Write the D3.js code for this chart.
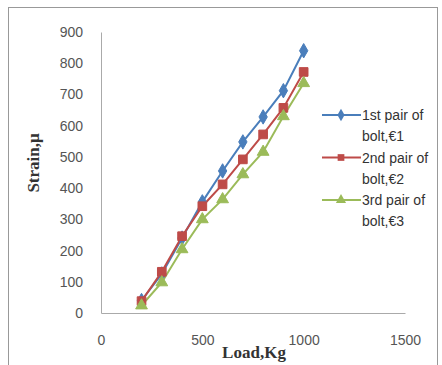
<!DOCTYPE html>
<html>
<head>
<script src="https://d3js.org/d3.v7.min.js"></script>
<style>
  body { margin: 0; background: #fff; }
  .tick text { font-family: "Liberation Sans", Arial, sans-serif; font-size: 14px; fill: #555; }
  .legend text { font-family: "Liberation Sans", Arial, sans-serif; font-size: 14px; fill: #333; }
  .title { font-family: "Liberation Serif", "Times New Roman", serif; font-weight: bold; font-size: 17px; fill: #333; }
</style>
</head>
<body>
<script>
var loads = [200, 300, 400, 500, 600, 700, 800, 900, 1000];
var pair1 = [40, 125, 240, 356, 455, 548, 628, 712, 840];
var pair2 = [38, 132, 246, 342, 412, 492, 572, 657, 772];
var pair3 = [24, 98, 204, 300, 364, 444, 516, 630, 736];
var seriesNames = [["1st pair of", "bolt,\u20ac1"], ["2nd pair of", "bolt,\u20ac2"], ["3rd pair of", "bolt,\u20ac3"]];
var xTicks = [0, 500, 1000, 1500];
var yTicks = [0, 100, 200, 300, 400, 500, 600, 700, 800, 900];

var colours = ["#4a7ebb", "#be4b48", "#9bbb59"];
var shapes = [d3.symbolDiamond, d3.symbolSquare, d3.symbolTriangle];

var width = 442, height = 365;
var svg = d3.select("body").append("svg")
    .attr("width", width)
    .attr("height", height);

// chart frame
svg.append("rect")
  .attr("x", 8.5).attr("y", 7.5)
  .attr("width", 429).attr("height", 370)
  .attr("fill", "none").attr("stroke", "#999");

var x = d3.scaleLinear().domain([0, 1500]).range([101, 405]);
var y = d3.scaleLinear().domain([0, 900]).range([313, 32]);

var xAxis = d3.axisBottom(x).tickValues(xTicks).tickFormat(d3.format("d")).tickSize(0).tickPadding(22);
var yAxis = d3.axisLeft(y).tickValues(yTicks).tickSize(0).tickPadding(18);

svg.append("g")
  .attr("transform", "translate(0," + y(0) + ")")
  .call(xAxis)
  .call(function(g) { g.select(".domain").attr("stroke", "#aaa"); });

svg.append("g")
  .attr("transform", "translate(" + x(0) + ",0)")
  .call(yAxis)
  .call(function(g) { g.select(".domain").attr("stroke", "#aaa"); });

var data = [pair1, pair2, pair3];
var line = d3.line()
  .x(function(d, i) { return x(loads[i]); })
  .y(function(d) { return y(d); });

data.forEach(function(vals, s) {
  svg.append("path")
    .datum(vals)
    .attr("d", line)
    .attr("fill", "none")
    .attr("stroke", colours[s])
    .attr("stroke-width", 2);
});
data.forEach(function(vals, s) {
  svg.append("g").selectAll("path")
    .data(vals)
    .enter()
    .append("path")
    .attr("d", d3.symbol().type(shapes[s]).size(s === 1 ? 75 : 60))
    .attr("transform", function(d, i) { return "translate(" + x(loads[i]) + "," + y(d) + ")"; })
    .attr("fill", colours[s])
    .attr("stroke", colours[s]);
});

// axis titles
svg.append("text")
  .attr("class", "title")
  .attr("transform", "translate(39,163) rotate(-90)")
  .attr("text-anchor", "middle")
  .text("Strain,\u03bc");

svg.append("text")
  .attr("class", "title")
  .attr("x", 254).attr("y", 358)
  .attr("text-anchor", "middle")
  .text("Load,Kg");

// legend
var legend = svg.append("g").attr("class", "legend");
seriesNames.forEach(function(lines, s) {
  var ly = 115 + s * 42.5;
  legend.append("line")
    .attr("x1", 322).attr("x2", 361)
    .attr("y1", ly).attr("y2", ly)
    .attr("stroke", colours[s]).attr("stroke-width", 2);
  legend.append("path")
    .attr("d", d3.symbol().type(shapes[s]).size(45))
    .attr("transform", "translate(341," + ly + ")")
    .attr("fill", colours[s]);
  lines.forEach(function(t, k) {
    legend.append("text")
      .attr("x", 362).attr("y", ly + 5 + k * 21)
      .text(t);
  });
});
</script>
</body>
</html>
